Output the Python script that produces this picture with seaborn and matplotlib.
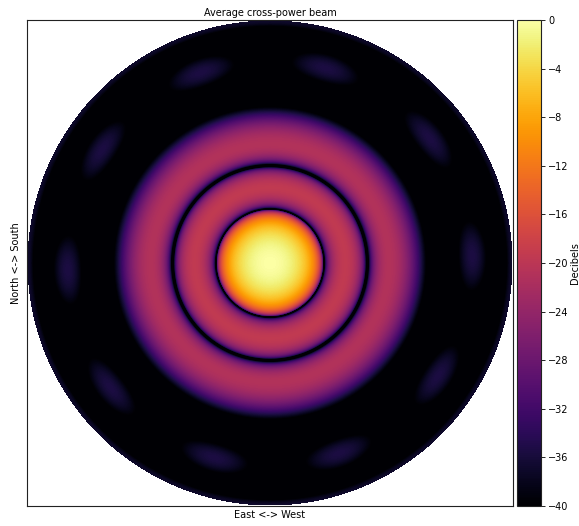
import numpy as np
import pandas as pd
import matplotlib
matplotlib.use("Agg")
import matplotlib.pyplot as plt
import seaborn as sns

# ---- values (radii in units of the horizon radius) ----
null_radii = [0.222, 0.400]            # dark ring radii
lobe_peak_db = [0.0, -19.5, -21.0]     # main lobe, 1st ring, 2nd ring
lobe3_peak_r = 0.49                    # radius of the 2nd ring's maximum
lobe3_falloff = 800.0                  # dB per unit r^2 beyond that maximum
null_sharpness = [0.85, 1.0]           # exponents shaping the ring edges
sidelobe_angles_deg = [2, 38, 74, 110, 146, 182, 218, 254, 290, 326]
sidelobe_radius = 0.835
sidelobe_db = -35.5
rim_db = -37.0
cbar_ticks = [0, -4, -8, -12, -16, -20, -24, -28, -32, -36, -40]

title = "Average cross-power beam"
xlabel = "East <-> West"
ylabel = "North <-> South"
cbar_label = "Decibels"

# ---- build the beam map ----
N = 486
xs = np.linspace(-1, 1, N)
ys = np.linspace(1, -1, N)
X, Y = np.meshgrid(xs, ys)
R = np.hypot(X, Y)
TH = np.arctan2(Y, X)

r1, r2 = null_radii
p2, p3 = null_sharpness
amp = np.zeros_like(R)
m = R < r1
amp[m] = np.cos(np.pi / 2 * R[m] / r1)
m = (R >= r1) & (R < r2)
amp[m] = 10 ** (lobe_peak_db[1] / 20) * np.abs(np.sin(np.pi * (R[m] - r1) / (r2 - r1))) ** p2
m = (R >= r2) & (R < lobe3_peak_r)
amp[m] = 10 ** (lobe_peak_db[2] / 20) * np.abs(np.sin(np.pi / 2 * (R[m] - r2) / (lobe3_peak_r - r2))) ** p3
m = R >= lobe3_peak_r
amp[m] = 10 ** ((lobe_peak_db[2] - lobe3_falloff * (R[m] - lobe3_peak_r) ** 2) / 20)
power = amp ** 2

for a in sidelobe_angles_deg:
    t = np.deg2rad(a)
    dth = np.angle(np.exp(1j * (TH - t)))
    g = np.exp(-0.5 * ((R - sidelobe_radius) / 0.04) ** 2 - 0.5 * (dth / 0.12) ** 2)
    power += 10 ** (sidelobe_db / 10) * g
power += 10 ** (rim_db / 10) * np.exp(-0.5 * ((1 - R) / 0.02) ** 2)
power += 1e-6

db = 10 * np.log10(power)
db[R > 1] = np.nan
df = pd.DataFrame(db)

# ---- figure ----
sns.set_style("white")
plt.rcParams["font.family"] = ["DejaVu Sans"]
plt.rcParams["text.color"] = "black"
plt.rcParams["axes.labelcolor"] = "black"
plt.rcParams["xtick.color"] = "black"
plt.rcParams["ytick.color"] = "black"
fig = plt.figure(figsize=(5.79, 5.26), dpi=100)
ax = fig.add_axes([27 / 579, 20 / 526, 486 / 579, 486 / 526])
cax = fig.add_axes([517 / 579, 20 / 526, 24 / 579, 486 / 526])

sns.heatmap(df, ax=ax, cbar_ax=cax, cmap="inferno", vmin=-40, vmax=0,
            xticklabels=False, yticklabels=False, square=False)
ax.set_xticks([])
ax.set_yticks([])
for s in ax.spines.values():
    s.set_visible(True)
    s.set_color("#222222")
    s.set_linewidth(0.8)

ax.set_title(title, fontsize=7, pad=3, color="black")
ax.set_xlabel(xlabel, fontsize=7, labelpad=3, color="black")
ax.set_ylabel(ylabel, fontsize=7, labelpad=4, color="black")

cb = ax.collections[0].colorbar
cb.set_ticks(cbar_ticks)
cb.ax.tick_params(labelsize=7, length=3, width=0.6, pad=2, direction="out",
                  colors="black")
cb.outline.set_linewidth(0.8)
cb.outline.set_edgecolor("#222222")
cb.set_label(cbar_label, fontsize=7, labelpad=1, color="black")

fig.savefig("out.png", dpi=100)
